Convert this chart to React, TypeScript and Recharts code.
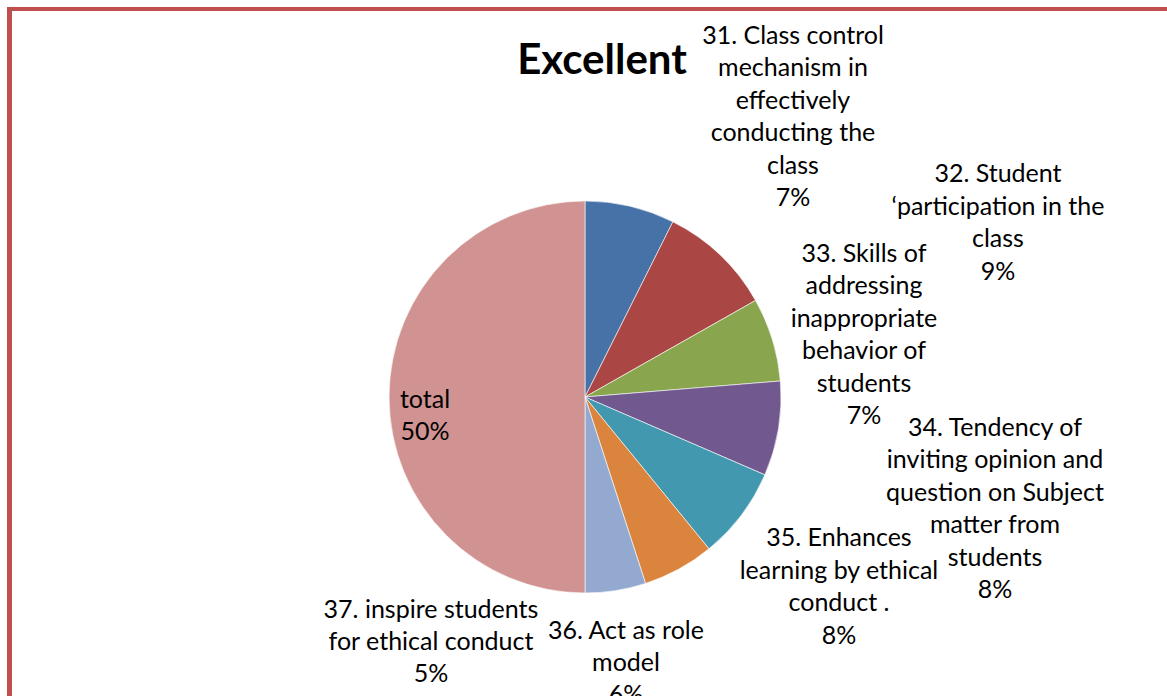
import { PieChart, Pie, Cell } from "recharts";

const categories = [
  "31. Class control\nmechanism in\neffectively\nconducting the\nclass",
  "32. Student\n\u2018participation in the\nclass",
  "33. Skills of\naddressing\ninappropriate\nbehavior of\nstudents",
  "34. Tendency of\ninviting opinion and\nquestion on Subject\nmatter from\nstudents",
  "35. Enhances\nlearning by ethical\nconduct .",
  "36. Act as role\nmodel",
  "37. inspire students\nfor ethical conduct",
  "total",
];
const values = [7.4, 9.4, 6.9, 7.8, 7.6, 5.9, 5.0, 50];
const colors = ["#4672A8", "#AA4643", "#89A54E", "#71588F", "#4198AF", "#DB843D", "#93A9CF", "#D19392"];

// label block centre, relative to the pie centre (Excel's manual label placement)
const labelOffsets = [
  [208, -281],
  [413, -175],
  [279, -63],
  [410, 111],
  [254, 189],
  [41, 265],
  [-154, 244],
  [-160, 18],
];

const data = categories.map((name, i) => ({ name, value: values[i] }));
const LINE_H = 32.4;

const renderLabel = (props: any) => {
  const { cx, cy, index, percent } = props;
  const lines = [...data[index].name.split("\n"), `${Math.round(percent * 100)}%`];
  const [dx, dy] = labelOffsets[index];
  const x = cx + dx;
  const firstBaseline = cy + dy - ((lines.length - 1) * LINE_H) / 2 + 9;
  return (
    <text
      key={`lbl-${index}`}
      x={x}
      y={firstBaseline}
      textAnchor="middle"
      fill="#000"
      fontSize={25}
      fontFamily="Lato, 'Open Sans', sans-serif"
    >
      {lines.map((l, k) => (
        <tspan key={k} x={x} y={firstBaseline + k * LINE_H}>
          {l}
        </tspan>
      ))}
    </text>
  );
};

export default function App() {
  return (
    <div style={{ position: "fixed", left: 0, top: 0, width: 1167, height: 696, background: "#fff", overflow: "hidden" }}>
      <div
        style={{
          position: "absolute",
          left: 7,
          top: 7,
          width: 1200,
          height: 720,
          borderLeft: "5px solid #C0504D",
          borderTop: "4px solid #C0504D",
          boxSizing: "border-box",
        }}
      />
      <PieChart
        width={1167}
        height={696}
        margin={{ top: 0, right: 0, bottom: 0, left: 0 }}
        style={{ position: "absolute", left: 0, top: 0 }}
      >
        <text
          x={602}
          y={74}
          textAnchor="middle"
          fontSize={42}
          fontWeight={700}
          fill="#000"
          fontFamily="Lato, 'Open Sans', sans-serif"
        >
          Excellent
        </text>
        <Pie
          data={data}
          dataKey="value"
          nameKey="name"
          cx={585}
          cy={397}
          outerRadius={196}
          startAngle={90}
          endAngle={-270}
          label={renderLabel}
          labelLine={false}
          isAnimationActive={false}
          stroke="#ffffff"
          strokeWidth={0.6}
        >
          {data.map((d, i) => (
            <Cell key={d.name} fill={colors[i]} />
          ))}
        </Pie>
      </PieChart>
    </div>
  );
}
